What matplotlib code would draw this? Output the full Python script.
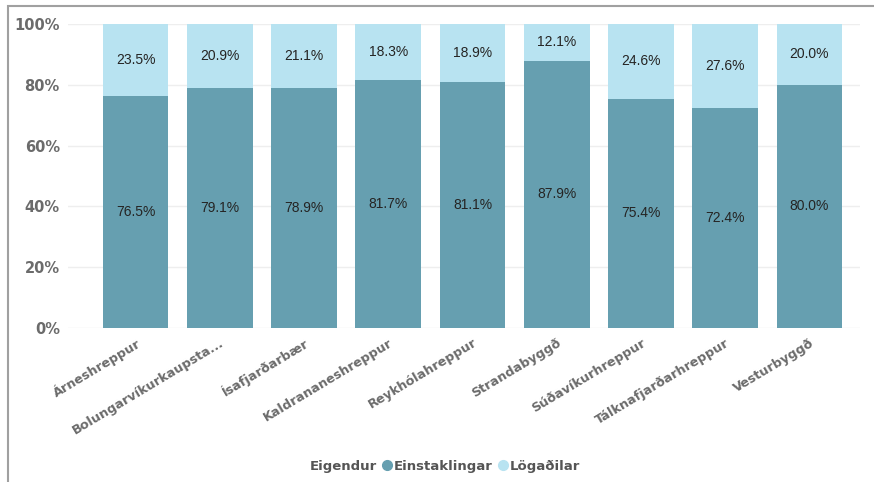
import matplotlib.pyplot as plt
import numpy as np
from matplotlib.lines import Line2D
from matplotlib.patches import Rectangle

plt.rcParams['font.family'] = ['Liberation Sans', 'DejaVu Sans']

sveitarfelog = ['Árneshreppur', 'Bolungarvíkurkaupsta...', 'Ísafjarðarbær',
                'Kaldrananeshreppur', 'Reykhólahreppur', 'Strandabyggð',
                'Súðavíkurhreppur', 'Tálknafjarðarhreppur', 'Vesturbyggð']
einstaklingar = [76.5, 79.1, 78.9, 81.7, 81.1, 87.9, 75.4, 72.4, 80.0]
logadilar = [23.5, 20.9, 21.1, 18.3, 18.9, 12.1, 24.6, 27.6, 20.0]
yticks = [0, 20, 40, 60, 80, 100]

dark = '#669fb0'
light = '#b8e3f1'
tick_col = '#6b6b6b'

fig = plt.figure(figsize=(8.74, 4.82), dpi=100)
ax = fig.add_axes([0.078, 0.3195, 0.906, 0.6305])

x = np.arange(len(sveitarfelog))
ax.bar(x, einstaklingar, width=0.78, color=dark, zorder=2)
ax.bar(x, logadilar, width=0.78, bottom=einstaklingar, color=light, zorder=2)

for i in range(len(x)):
    ax.text(x[i], einstaklingar[i] / 2, '%.1f%%' % einstaklingar[i],
            ha='center', va='center', fontsize=10, color='#252423')
    ax.text(x[i], einstaklingar[i] + logadilar[i] / 2, '%.1f%%' % logadilar[i],
            ha='center', va='center', fontsize=10, color='#252423')

ax.set_xlim(-0.8, 8.6)
ax.set_ylim(0, 100)
ax.set_yticks(yticks)
ax.set_yticklabels(['%d%%' % v for v in yticks], fontsize=10.5, fontweight='bold',
                   color=tick_col, family='DejaVu Sans')
ax.set_xticks(x)
ax.set_xticklabels(sveitarfelog, rotation=31, ha='right', rotation_mode='anchor',
                   fontsize=9.2, fontweight='bold', color=tick_col, family='DejaVu Sans')
ax.tick_params(axis='both', length=0)
ax.tick_params(axis='x', pad=6)
ax.tick_params(axis='y', pad=6)
ax.grid(axis='y', color='#eeeeee', linewidth=1, zorder=0)
for s in ax.spines.values():
    s.set_visible(False)

# legend: title inline with entries
fig.text(310 / 874, 0.032, 'Eigendur', ha='left', va='center', fontsize=9.5,
         fontweight='bold', color='#555555', family='DejaVu Sans')
handles = [Line2D([], [], marker='o', linestyle='', color=dark, markersize=7),
           Line2D([], [], marker='o', linestyle='', color=light, markersize=7)]
leg = fig.legend(handles, ['Einstaklingar', 'Lögaðilar'],
                 loc='center left', bbox_to_anchor=(374 / 874, 0.032), ncol=2, frameon=False,
                 handletextpad=0.0, columnspacing=0.3, handlelength=1.0, borderpad=0,
                 prop={'size': 9.5, 'weight': 'bold', 'family': 'DejaVu Sans'})
for t in leg.get_texts():
    t.set_color('#555555')

# frame border (left and top visible)
fig.add_artist(Rectangle((0.009, -0.01), 1.2, 0.998, transform=fig.transFigure,
                         fill=False, edgecolor='#a0a0a0', linewidth=1.5))

fig.savefig('out.png', dpi=100)
